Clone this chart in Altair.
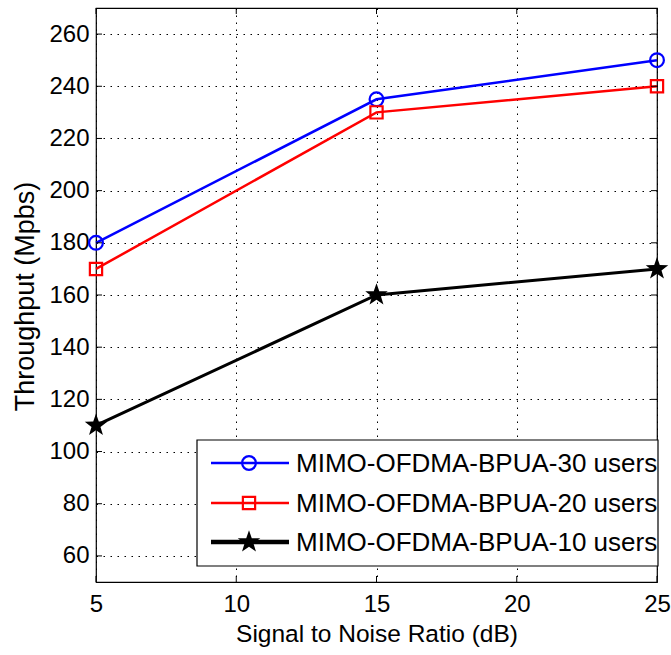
import altair as alt
import pandas as pd

snr = [5, 15, 25]
series_names = ["MIMO-OFDMA-BPUA-30 users", "MIMO-OFDMA-BPUA-20 users", "MIMO-OFDMA-BPUA-10 users"]
thr_30 = [180, 235, 250]
thr_20 = [170, 230, 240]
thr_10 = [110, 160, 170]
colors = ["#0000FF", "#FF0000", "#000000"]
STAR = ("M0,-1L0.235,-0.324L0.951,-0.309L0.380,0.124L0.588,0.809L0,0.4"
        "L-0.588,0.809L-0.380,0.124L-0.951,-0.309L-0.235,-0.324Z")
shapes = ["circle", "square", STAR]
filled = [False, False, True]
sizes = [190, 150, 560]
line_widths = [2.5, 2.5, 3]
x_ticks = [5, 10, 15, 20, 25]
y_ticks = [60, 80, 100, 120, 140, 160, 180, 200, 220, 240, 260]

W, H = 561, 574
FONT = "Liberation Sans"

values = [thr_30, thr_20, thr_10]
rows = []
for name, vals in zip(series_names, values):
    for s, v in zip(snr, vals):
        rows.append({"snr": s, "thr": v, "series": name})
df = pd.DataFrame(rows)

xs = alt.Scale(domain=[5, 25], nice=False, zero=False)
ys = alt.Scale(domain=[50, 270], nice=False, zero=False)

xaxis = alt.Axis(orient="bottom", values=x_ticks, grid=True, gridColor="black", gridDash=[1.5, 5.5],
                 gridWidth=1, gridOpacity=1, ticks=False, domain=False, labelFontSize=24,
                 labelFont=FONT, labelColor="black", labelPadding=10,
                 title="Signal to Noise Ratio (dB)", titleFont=FONT, titleFontSize=24.5,
                 titleFontWeight="normal", titleColor="black", titleY=59,
                 titleBaseline="alphabetic", labelFlush=False)
yaxis = alt.Axis(orient="left", values=y_ticks, grid=True, gridColor="black", gridDash=[1.5, 5.5],
                 gridWidth=1, gridOpacity=1, ticks=False, domain=False, labelFontSize=24,
                 labelFont=FONT, labelColor="black", labelPadding=7, title="Throughput (Mpbs)",
                 titleFont=FONT, titleFontSize=27, titleFontWeight="normal", titleColor="black",
                 titleX=-63, titleY=288, titleBaseline="alphabetic", titleAngle=-90,
                 labelFlush=False)


def X(field):
    return alt.X(field, scale=xs, axis=xaxis)


def Y(field):
    return alt.Y(field, scale=ys, axis=yaxis)


layers = []
for name, col, shp, fil, sz, lw in zip(series_names, colors, shapes, filled, sizes, line_widths):
    d = df[df["series"] == name]
    layers.append(alt.Chart(d).mark_line(color=col, strokeWidth=lw).encode(
        x=X("snr:Q"), y=Y("thr:Q")))
    layers.append(alt.Chart(d).mark_point(shape=shp, color=col, filled=fil, size=sz,
                                          strokeWidth=2.2, opacity=1).encode(
        x=X("snr:Q"), y=Y("thr:Q")))

# inward ticks on all four sides
xt = pd.DataFrame({"snr": x_ticks})
yt = pd.DataFrame({"thr": y_ticks})
layers.append(alt.Chart(xt).mark_rule(color="black", strokeWidth=1).encode(
    x=X("snr:Q"), y=alt.value(H), y2=alt.value(H - 6)))
layers.append(alt.Chart(xt).mark_rule(color="black", strokeWidth=1).encode(
    x=X("snr:Q"), y=alt.value(0), y2=alt.value(6)))
layers.append(alt.Chart(yt).mark_rule(color="black", strokeWidth=1).encode(
    y=Y("thr:Q"), x=alt.value(0), x2=alt.value(6)))
layers.append(alt.Chart(yt).mark_rule(color="black", strokeWidth=1).encode(
    y=Y("thr:Q"), x=alt.value(W), x2=alt.value(W - 6)))

# legend box
leg_df = pd.DataFrame({"series": series_names})
layers.append(alt.Chart(leg_df.head(1)).mark_rect(fill="white", stroke="black", strokeWidth=1.2).encode(
    x=alt.value(101), x2=alt.value(562), y=alt.value(432), y2=alt.value(558)))
row_y = [455, 495, 534]
for i, (name, col, shp, fil, lw) in enumerate(zip(series_names, colors, shapes, filled, line_widths)):
    ld = leg_df.iloc[[i]]
    layers.append(alt.Chart(ld).mark_rule(color=col, strokeWidth=lw if i < 2 else 4.5).encode(
        x=alt.value(115), x2=alt.value(193), y=alt.value(row_y[i])))
    layers.append(alt.Chart(ld).mark_point(shape=shp, color=col, filled=fil, size=sizes[i],
                                           strokeWidth=2.2, opacity=1).encode(
        x=alt.value(153), y=alt.value(row_y[i])))
    layers.append(alt.Chart(ld).mark_text(align="left", baseline="middle", font=FONT, fontSize=26,
                                          color="black").encode(
        x=alt.value(200), y=alt.value(row_y[i] + 1), text="series:N"))

chart = alt.layer(*layers).properties(
    width=W, height=H,
    autosize=alt.AutoSizeParams(type="none"),
    padding={"left": 96, "top": 8, "right": 14, "bottom": 73},
    background="white",
).configure_view(stroke="black", strokeWidth=1.2)

chart.save("out.html", embed_options={"renderer": "svg", "actions": False})
